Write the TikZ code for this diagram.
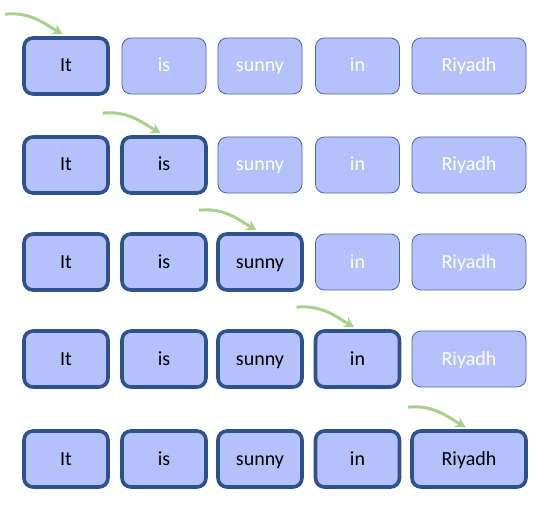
\documentclass[tikz,border=0pt]{standalone}
\usepackage{fontspec}
\setmainfont{Carlito}
\usepackage{tikz}
\usetikzlibrary{arrows.meta, calc}

\definecolor{wordfill}{RGB}{180,193,250}
\definecolor{wordline}{RGB}{47,82,143}
\definecolor{softline}{RGB}{72,103,170}
\definecolor{cursorgreen}{RGB}{169,209,142}

\begin{document}
\begin{tikzpicture}[
  x=1pt, y=1pt,
  word/.style={draw=softline, fill=wordfill, rounded corners=9pt, line width=0.8pt,
               minimum width=84pt, minimum height=56pt, inner sep=0pt,
               text height=14pt, text depth=2pt,
               font=\fontsize{20}{24}\selectfont, text=white},
  seen/.style={draw=wordline, line width=3.6pt, text=black},
  wide/.style={minimum width=114pt},
  pick/.code 2 args={\ifnum#1>#2\else\tikzset{seen}\fi\ifnum#1=5\tikzset{wide}\fi},
  cursor/.style={-{Stealth[length=10pt, width=11pt]}, line width=3pt, color=cursorgreen},
]
  \useasboundingbox (0,0) rectangle (554,515);

  % ── Five rows of words, the first r of them already read ──
  \foreach \r/\y in {1/449, 2/350, 3/253, 4/156, 5/56} {
    \foreach \c/\x/\txt in {1/66/It, 2/164/is, 3/260/sunny, 4/357.5/in, 5/469/Riyadh} {
      \node[word, pick={\c}{\r}] (w\r\c) at (\x, \y) {\txt};
    }
  }

  % ── Green cursor above the current word ──
  \foreach \r in {1,...,5} {
    \coordinate (s\r) at ($(w\r\r.north)+(-61,22)$);
    \draw[cursor, shorten >=4pt] (s\r) to[out=6, in=150] (w\r\r.north);
  }
\end{tikzpicture}
\end{document}
